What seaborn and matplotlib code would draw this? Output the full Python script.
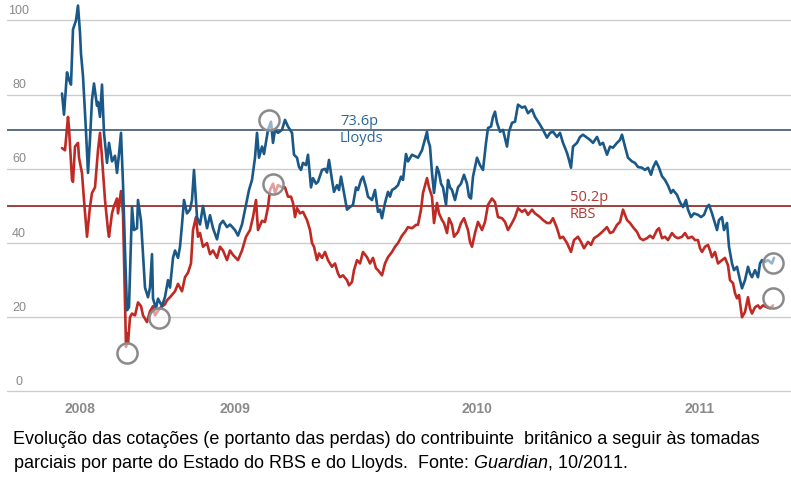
import matplotlib
matplotlib.use("Agg")
import matplotlib.pyplot as plt
import seaborn as sns
import pandas as pd

sns.set_style("white")
plt.rcParams["font.family"] = ["Liberation Sans", "DejaVu Sans"]
plt.rcParams["mathtext.fontset"] = "custom"
plt.rcParams["mathtext.it"] = "Liberation Sans:italic"
plt.rcParams["mathtext.rm"] = "Liberation Sans"

# time index (trading-day position) and share prices in pence
lloyds_dia = [62, 64, 67, 69, 71, 73, 76, 78, 80, 81,
              83, 86, 88, 90, 92, 94, 97, 98, 100, 102,
              104, 107, 109, 112, 115, 117, 119, 121, 123, 125,
              127, 129, 132, 134, 137, 138, 141, 143, 145, 148,
              150, 152, 153, 156, 158, 162, 165, 168, 170, 173,
              175, 178, 180, 182, 184, 187, 190, 192, 194, 197,
              200, 203, 207, 210, 213, 217, 220, 223, 227, 230,
              235, 238, 242, 245, 249, 252, 255, 257, 259, 262,
              264, 268, 271, 273, 275, 278, 282, 285, 288, 292,
              294, 297, 299, 301, 303, 306, 308, 311, 313, 316,
              318, 322, 325, 327, 329, 332, 334, 337, 339, 341,
              343, 347, 350, 353, 356, 358, 361, 363, 366, 368,
              372, 375, 378, 380, 382, 385, 388, 390, 392, 395,
              398, 401, 403, 406, 408, 412, 415, 418, 422, 424,
              427, 428, 430, 432, 434, 437, 439, 441, 443, 446,
              448, 450, 452, 455, 458, 461, 464, 467, 469, 471,
              473, 477, 480, 483, 486, 488, 491, 493, 495, 497,
              500, 503, 507, 509, 512, 515, 518, 522, 525, 528,
              532, 535, 540, 543, 547, 550, 553, 557, 560, 563,
              567, 569, 571, 573, 577, 580, 583, 587, 590, 593,
              597, 600, 603, 607, 610, 613, 617, 620, 622, 625,
              628, 632, 635, 638, 642, 645, 648, 651, 653, 656,
              659, 662, 665, 668, 671, 673, 677, 680, 683, 686,
              688, 691, 694, 698, 701, 704, 707, 709, 712, 714,
              717, 719, 722, 724, 727, 729, 732, 734, 737, 740,
              742, 745, 748, 750, 752, 755, 758, 760, 762, 765,
              768, 772, 774]
lloyds_preco = [80.3, 74.6, 86, 84, 82.7, 97.6, 100, 104, 96.7, 91,
                85, 70, 58.9, 68, 78.6, 83, 77, 78, 74, 82.7,
                69.7, 61.6, 67, 62, 63.5, 58.9, 64, 69.7, 56, 38,
                21.9, 22.7, 49.7, 43.5, 44, 51.6, 46, 37, 28, 25.4,
                28, 37, 25, 22.4, 25, 23, 25.5, 30, 28, 36,
                38, 36, 39, 45, 51.6, 48, 49, 51.6, 59.7, 47,
                45, 50, 44, 47.5, 44, 41, 45, 46, 44.3, 45,
                43.5, 42, 45, 49, 54.3, 57, 63, 69.7, 63, 66,
                64, 70.5, 72.7, 67, 70.5, 69.7, 70.5, 73.2, 71.4, 69.7,
                63.8, 63, 60.5, 59.7, 61.6, 61, 63.8, 55, 57.5, 56,
                56.5, 59.7, 60, 59, 62.4, 57, 53.8, 55.6, 54.3, 57.9,
                55, 49, 49.7, 50.3, 55, 54.3, 57, 57.9, 55, 52.5,
                51.6, 54.3, 48.4, 49, 46.7, 50.8, 53.8, 52.5, 54.3, 54.8,
                55.6, 57.9, 57, 64, 62, 63.8, 63.4, 63, 65, 67,
                70, 67.8, 66, 58.9, 53.5, 60.5, 59, 56, 55, 50.3,
                57, 55, 54.3, 51.6, 55, 56, 58.4, 56, 52.5, 52,
                57.9, 63, 61, 59.7, 67, 71, 71.4, 74, 75.4, 72.4,
                70, 70.5, 66, 70, 72.4, 72.7, 77.3, 76.5, 76.8, 75,
                76, 74, 71.9, 70.5, 68.4, 69.7, 70, 68.6, 69.7, 67,
                64.3, 62.4, 60.3, 66, 67, 68.6, 69.2, 68.4, 67.8, 67,
                68.6, 66.5, 67, 63.8, 66, 65.7, 67, 67.8, 69.2, 66,
                63, 62, 61.6, 60.5, 60.3, 59.7, 60.3, 58.4, 60.3, 62,
                60.3, 58, 57, 55.5, 53.5, 54.3, 53, 51, 49.7, 51.6,
                49, 47, 48, 47.6, 47, 47.6, 49.7, 50.3, 48, 46.2,
                43.5, 46.2, 47, 43.5, 45.4, 39, 34.5, 32.7, 33.6, 30,
                27.8, 30, 33.6, 31.8, 30.8, 32.7, 30.8, 34.5, 35.4, 34.9,
                35.4, 34.5, 36]

rbs_dia = [62, 65, 68, 69, 72, 73, 75, 78, 79, 82,
           84, 87, 90, 92, 95, 98, 100, 102, 105, 108,
           109, 112, 114, 117, 118, 121, 123, 126, 127, 128,
           130, 132, 135, 138, 141, 143, 147, 150, 153, 155,
           160, 165, 167, 170, 175, 178, 182, 185, 188, 191,
           193, 196, 198, 200, 203, 207, 210, 213, 217, 220,
           223, 227, 230, 233, 238, 242, 246, 250, 253, 256,
           258, 262, 265, 268, 270, 273, 275, 278, 282, 285,
           288, 291, 293, 295, 297, 300, 303, 307, 310, 312,
           314, 317, 319, 322, 325, 328, 332, 335, 338, 340,
           343, 347, 349, 352, 354, 357, 360, 363, 367, 370,
           373, 376, 378, 382, 385, 388, 392, 395, 398, 402,
           405, 408, 412, 416, 418, 421, 423, 427, 429, 432,
           434, 437, 439, 442, 444, 447, 449, 452, 454, 458,
           461, 464, 468, 470, 472, 475, 478, 482, 485, 488,
           492, 495, 498, 502, 505, 508, 512, 515, 518, 522,
           525, 528, 532, 535, 540, 543, 547, 550, 553, 557,
           560, 563, 567, 571, 574, 578, 581, 584, 588, 591,
           594, 598, 601, 604, 607, 610, 613, 617, 620, 623,
           627, 630, 633, 637, 640, 643, 647, 650, 653, 657,
           659, 662, 665, 668, 672, 675, 678, 682, 685, 688,
           692, 695, 698, 700, 702, 705, 708, 710, 712, 715,
           718, 722, 725, 728, 730, 733, 735, 737, 739, 742,
           745, 748, 750, 752, 755, 758, 760, 763, 767, 770,
           773]
rbs_preco = [65.6, 65, 74, 71, 57, 56.5, 66, 67, 63, 58.8,
             51.6, 41.7, 49.8, 53.5, 55, 65, 69.7, 63, 51.6, 43.5,
             41.7, 48, 50, 52, 48, 54, 48, 12, 15.6, 13,
             20, 21, 20.5, 24, 23, 20.5, 18.7, 21.6, 23, 20.5,
             22.5, 23.5, 24.6, 25.4, 27, 29, 27, 30.8, 32, 34.5,
             43.5, 47, 41.7, 42.7, 39, 40, 37, 38, 36, 39,
             38, 35.4, 38, 36.8, 35.4, 38, 41.7, 43.5, 47, 51.6,
             43.5, 46, 45.7, 49.7, 54.3, 56, 53.5, 55.6, 55, 55,
             52.5, 52.5, 50.8, 47, 49.4, 48, 48.4, 46.2, 43.5, 40,
             39, 35.4, 37.2, 36, 37.6, 35.4, 33.6, 34.5, 31.8, 30.8,
             31.3, 30, 28.6, 29.5, 32.7, 35.4, 34.5, 37.6, 36.2, 34.5,
             36, 33.2, 32.7, 31.3, 34.5, 36.2, 37.6, 39, 40, 42,
             43, 44.3, 44, 44.9, 44.9, 49, 53.5, 57.5, 55, 52.5,
             45.4, 50.8, 48, 46.2, 45.4, 42.7, 46.7, 44.9, 41.7, 43,
             45.4, 46.7, 43.5, 40.3, 39, 42.7, 45.7, 43.5, 45.7, 50.3,
             52, 51, 47, 46.7, 45.7, 43.5, 45.4, 47, 49.4, 48.4,
             49, 47.6, 49, 48, 47, 46.2, 45.4, 45.4, 46.7, 44,
             41.3, 41.7, 40, 37.6, 40.8, 41.7, 40.3, 38.6, 40.3, 39.5,
             41.3, 42, 42.7, 43.5, 44.3, 42.7, 43, 44.9, 45.7, 49,
             46.2, 45.4, 44.3, 43, 41.3, 40.8, 41.3, 42, 41.3, 43.5,
             44, 41.3, 41.7, 40.8, 42.7, 41.7, 41.3, 41.7, 42.7, 41.3,
             41.7, 40.8, 40.8, 38.6, 37.6, 39, 39.5, 38, 36.2, 37.6,
             34.5, 35.4, 36, 34, 30, 29.2, 26.5, 25.1, 26, 20,
             21.4, 25.4, 22.4, 21, 22.7, 23.2, 22.4, 23.2, 22.7, 22.4,
             23.2]

# horizontal reference lines (government entry price)
lloyds_ref = 70.5
rbs_ref = 50.0
lloyds_label = "73.6p\nLloyds"
rbs_label = "50.2p\nRBS"

# circled points (partial stake purchases)
circulo_dia = [127, 159, 269, 273, 773, 773]
circulo_preco = [10.4, 19.8, 73.2, 55.8, 34.6, 25.2]

anos = ["2008", "2009", "2010", "2011"]
anos_dia = [80, 235, 477, 700]
y_ticks = [0, 20, 40, 60, 80, 100]

legenda_1 = "Evolução das cotações (e portanto das perdas) do contribuinte  britânico a seguir às tomadas"
legenda_2 = r"parciais por parte do Estado do RBS e do Lloyds.  Fonte: $\mathit{Guardian}$, 10/2011."

BLUE = "#1a5888"
RED = "#bf2a24"

df = pd.concat([
    pd.DataFrame({"dia": rbs_dia, "preco": rbs_preco, "banco": "RBS"}),
    pd.DataFrame({"dia": lloyds_dia, "preco": lloyds_preco, "banco": "Lloyds"}),
])

fig = plt.figure(figsize=(7.91, 4.80), dpi=100)
ax = fig.add_axes([7 / 791, 85 / 480, 784 / 791, 395 / 480])

ax.set_yticks(y_ticks)
ax.grid(axis="y", color="#cccccc", lw=1.0)
ax.grid(axis="x", visible=False)
ax.axhline(lloyds_ref, color="#3d566e", lw=1.2, zorder=1.5)
ax.axhline(rbs_ref, color="#8e1f1c", lw=1.2, zorder=1.5)

sns.lineplot(data=df, x="dia", y="preco", hue="banco", hue_order=["RBS", "Lloyds"],
             palette={"Lloyds": BLUE, "RBS": RED}, estimator=None, sort=False,
             lw=1.9, legend=False, ax=ax, zorder=3)

ax.scatter(circulo_dia, circulo_preco, s=210, facecolor=(1, 1, 1, 0.55),
           edgecolor="#8a8a8a", linewidth=1.8, zorder=4)

ax.set_xlim(7, 791)
ax.set_ylim(-0.95, 105.5)
ax.set_xlabel("")
ax.set_ylabel("")
ax.set_yticklabels([])
ax.tick_params(axis="y", length=0)
ax.set_xticks(anos_dia, anos)
ax.tick_params(axis="x", length=0, pad=5, labelsize=10, labelcolor="#8a8a8a")
for lbl in ax.get_xticklabels():
    lbl.set_fontweight("bold")
sns.despine(ax=ax, left=True, bottom=True)

for v in y_ticks:
    ax.annotate(str(v), xy=(19, v), xytext=(0, 2.5), textcoords="offset points",
                ha="center", va="bottom", fontsize=9, color="#8a8a8a")

ax.text(340, lloyds_ref, lloyds_label, color="#2a6698", fontsize=10.5,
        family="Open Sans", va="center", ha="left", linespacing=1.2)
ax.text(570, rbs_ref, rbs_label, color="#b23a33", fontsize=10.5,
        family="Open Sans", va="center", ha="left", linespacing=1.2)

fig.text(13 / 791, 36 / 480, legenda_1, fontsize=13, color="black", va="baseline")
fig.text(13 / 791, 12 / 480, legenda_2, fontsize=13, color="black", va="baseline")

fig.savefig("out.png", dpi=100)
